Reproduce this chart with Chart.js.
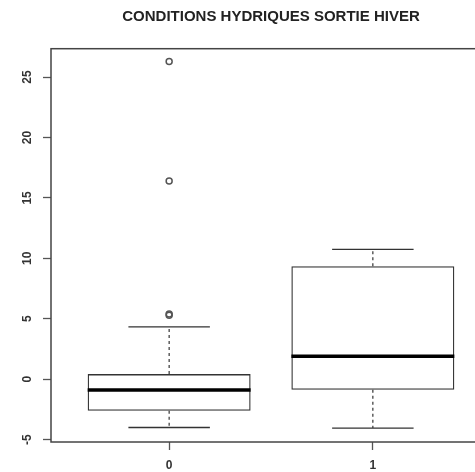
<!DOCTYPE html>
<html>
<head>
<meta charset="utf-8">
<script src="https://cdn.jsdelivr.net/npm/chart.js@4.4.1/dist/chart.umd.min.js"></script>
<style>
  html, body { margin: 0; padding: 0; background: #fff; }
  #wrap { width: 475px; height: 472px; overflow: hidden; }
  canvas { display: block; }
</style>
</head>
<body>
<div id="wrap"><canvas id="boxChart" width="542" height="472"></canvas></div>
<script>
// groups and their box statistics
const categories = ['0', '1'];
const whiskerLow = [-4.0, -4.05];
const q1 = [-2.62, -0.88];
const median = [-0.9, 1.9];
const q3 = [0.42, 9.34];
const whiskerHigh = [4.32, 10.74];
const outliers = [[26.3, 16.4, 5.3, 5.4], []];
const yTicks = [-5, 0, 5, 10, 15, 20, 25];
const title = 'CONDITIONS HYDRIQUES SORTIE HIVER';

const ink = '#333';
const font = '"Liberation Sans", Arial, sans-serif';
const gap = i => ({ x: i + 1.5, y: null });

const whiskerData = [];
const capData = [];
const medianData = [];
const outlierData = [];
categories.forEach((c, i) => {
  const x = i + 1;
  whiskerData.push({ x, y: q3[i] }, { x, y: whiskerHigh[i] }, gap(i),
                   { x, y: q1[i] }, { x, y: whiskerLow[i] }, gap(i));
  capData.push({ x: x - 0.2, y: whiskerHigh[i] }, { x: x + 0.2, y: whiskerHigh[i] }, gap(i),
               { x: x - 0.2, y: whiskerLow[i] }, { x: x + 0.2, y: whiskerLow[i] }, gap(i));
  medianData.push({ x: x - 0.4, y: median[i] }, { x: x + 0.4, y: median[i] }, gap(i));
  outliers[i].forEach(v => outlierData.push({ x, y: v }));
});

// frame, title over the plot region and rotated y labels, R style
const frame = {
  id: 'frame',
  afterDraw(chart) {
    const { ctx, chartArea: a, scales } = chart;
    ctx.save();
    ctx.strokeStyle = '#444';
    ctx.lineWidth = 1.5;
    ctx.strokeRect(a.left, a.top, a.right - a.left, a.bottom - a.top);

    ctx.fillStyle = '#222';
    ctx.font = 'bold 15px ' + font;
    ctx.textAlign = 'center';
    ctx.textBaseline = 'middle';
    ctx.fillText(title, (a.left + a.right) / 2, 17);

    ctx.fillStyle = ink;
    ctx.font = 'bold 12px ' + font;
    yTicks.forEach(v => {
      const py = scales.y.getPixelForValue(v);
      ctx.save();
      ctx.translate(28, py);
      ctx.rotate(-Math.PI / 2);
      ctx.fillText(String(v), 0, 0);
      ctx.restore();
    });
    ctx.restore();
  }
};

new Chart(document.getElementById('boxChart'), {
  data: {
    datasets: [
      {
        type: 'line', label: 'median', data: medianData, order: 0,
        borderColor: '#000', borderWidth: 3.5, pointRadius: 0, spanGaps: false
      },
      {
        type: 'line', label: 'whiskers', data: whiskerData, order: 1,
        borderColor: ink, borderWidth: 1.2, borderDash: [3, 3], pointRadius: 0, spanGaps: false
      },
      {
        type: 'line', label: 'caps', data: capData, order: 1,
        borderColor: ink, borderWidth: 1.3, pointRadius: 0, spanGaps: false
      },
      {
        type: 'scatter', label: 'outliers', data: outlierData, order: 1,
        pointStyle: 'circle', pointRadius: 3, borderWidth: 1.5,
        borderColor: '#555', backgroundColor: 'rgba(0,0,0,0)'
      },
      {
        type: 'bar', label: 'box', order: 2,
        data: categories.map((c, i) => ({ x: i + 1, y: [q1[i], q3[i]] })),
        backgroundColor: 'rgba(0,0,0,0)', borderColor: ink, borderWidth: 1.3,
        borderSkipped: false, barPercentage: 1, categoryPercentage: 0.8
      }
    ]
  },
  options: {
    responsive: false,
    animation: false,
    layout: { padding: { left: 0, right: 51, top: 48.7, bottom: 0 } },
    plugins: {
      legend: { display: false },
      tooltip: { enabled: false }
    },
    scales: {
      x: {
        type: 'linear',
        offset: false,
        min: 0.42,
        max: 2.58,
        afterBuildTicks: s => { s.ticks = categories.map((c, i) => ({ value: i + 1 })); },
        afterFit: s => { s.height = 30; },
        ticks: {
          callback: v => categories[v - 1],
          color: ink,
          padding: 8,
          font: { family: font, size: 12, weight: 'bold' }
        },
        grid: { offset: false, drawOnChartArea: false, tickLength: 8, tickColor: '#555', tickWidth: 1.3 },
        border: { display: false }
      },
      y: {
        min: -5.2,
        max: 27.35,
        afterBuildTicks: s => { s.ticks = yTicks.map(v => ({ value: v })); },
        afterFit: s => { s.width = 51; },
        ticks: { display: false },
        grid: { drawOnChartArea: false, tickLength: 8, tickColor: '#555', tickWidth: 1.3 },
        border: { display: false }
      }
    }
  },
  plugins: [frame]
});
</script>
</body>
</html>
